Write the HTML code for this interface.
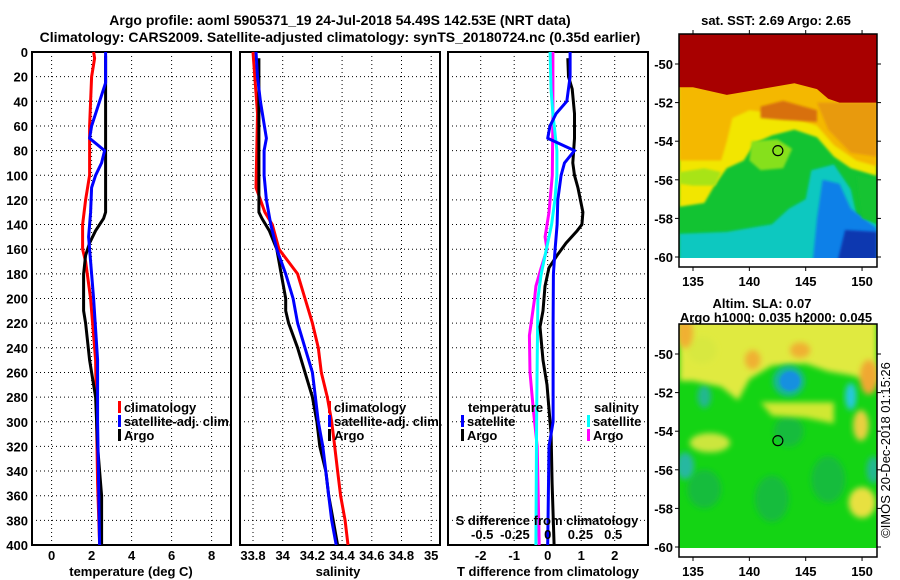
<!DOCTYPE html>
<html><head><meta charset="utf-8"><style>
html,body{margin:0;padding:0;background:#fff;}
svg{display:block;font-family:"Liberation Sans",Arial,sans-serif;font-weight:bold;}
</style></head><body>
<svg id="c" width="900" height="580" viewBox="0 0 900 580" xmlns="http://www.w3.org/2000/svg">
<defs>
<filter id="bl" x="-10%" y="-10%" width="120%" height="120%"><feGaussianBlur stdDeviation="1.2"/></filter>
<filter id="bl2" x="-30%" y="-30%" width="160%" height="160%"><feGaussianBlur stdDeviation="3"/></filter>
<clipPath id="m1c"><rect x="679" y="34" width="198" height="224"/></clipPath>
<clipPath id="m2c"><rect x="679" y="324" width="198" height="224"/></clipPath>
</defs>
<text x="340" y="25" font-size="14" text-anchor="middle">Argo profile: aoml 5905371_19 24-Jul-2018 54.49S 142.53E (NRT data)</text>
<text x="340" y="42" font-size="14" text-anchor="middle">Climatology: CARS2009. Satellite-adjusted climatology: synTS_20180724.nc (0.35d earlier)</text>
<g id="g"></g>
</svg>
<script>
// ---- data ----
const depthTicks=[0,20,40,60,80,100,120,140,160,180,200,220,240,260,280,300,320,340,360,380,400];
const tempTicks=[0,2,4,6,8];
const salTicks=[33.8,34,34.2,34.4,34.6,34.8,35];
const salTickLabels=["33.8","34","34.2","34.4","34.6","34.8","35"];
const dTTicks=[-2,-1,0,1,2];
const dSTicks=[-0.5,-0.25,0,0.25,0.5];
const dSTickLabels=["-0.5","-0.25","0","0.25","0.5"];
const climTDepth=[0,5,20,60,70,100,120,140,160,170,200,250,300,350,400];
const climT=[2.1,2.15,2.0,1.9,1.9,1.9,1.7,1.55,1.55,1.7,1.95,2.2,2.25,2.3,2.4];
const satTDepth=[0,25,40,60,70,80,90,100,110,130,150,180,200,250,300,400];
const satT=[2.7,2.7,2.4,2.0,1.9,2.65,2.5,2.2,2.0,1.95,1.85,2.0,2.1,2.3,2.3,2.4];
const argoTDepth=[3,35,130,135,145,155,165,180,210,220,250,280,320,360,400];
const argoT=[2.7,2.7,2.7,2.6,2.2,1.9,1.7,1.6,1.6,1.7,1.9,2.2,2.3,2.5,2.5];
const climSDepth=[0,50,110,130,140,160,180,200,220,240,260,280,300,320,340,360,380,400];
const climS=[33.8,33.83,33.82,33.88,33.93,33.975,34.1,34.15,34.2,34.24,34.26,34.3,34.33,34.35,34.37,34.39,34.42,34.44];
const satSDepth=[0,20,40,55,70,80,100,120,140,160,180,200,220,240,260,280,300,320,340,360,380,400];
const satS=[33.82,33.83,33.85,33.87,33.89,33.875,33.875,33.89,33.92,33.96,34.02,34.07,34.1,34.15,34.2,34.22,34.24,34.27,34.29,34.31,34.33,34.36];
const argoSDepth=[5,40,60,130,135,145,160,180,200,210,220,240,260,280,300,320,340,360,380,400];
const argoS=[33.84,33.84,33.84,33.84,33.86,33.91,33.96,33.99,34.02,34.02,34.04,34.1,34.15,34.2,34.23,34.25,34.29,34.31,34.34,34.37];
const dTsatDepth=[0,20,40,50,60,70,80,90,100,120,140,160,180,220,300,320,400];
const dTsat=[0.67,0.67,0.57,0.25,0.07,0,0.8,0.5,0.4,0.3,0.28,0.22,0.17,0.16,0.16,0.04,0];
const dTargoDepth=[5,20,30,50,70,90,100,110,130,140,145,155,165,175,190,210,223,250,270,290,310,350,400];
const dTargo=[0.6,0.62,0.73,0.8,0.8,0.75,0.8,0.9,1.05,1.02,0.88,0.55,0.28,0.04,-0.08,-0.14,-0.23,-0.14,-0.02,0.04,0.1,0.13,0.19];
const dSsatDepth=[0,30,50,80,100,120,140,160,180,200,250,300,400];
const dSsat=[0.018,0.025,0.04,0.07,0.07,0.055,0.03,-0.01,-0.05,-0.075,-0.08,-0.085,-0.09];
const dSargoDepth=[0,50,100,130,150,160,175,190,200,230,260,290,320,400];
const dSargo=[0.04,0.04,0.035,0.01,-0.02,-0.005,-0.05,-0.09,-0.1,-0.14,-0.135,-0.11,-0.08,-0.065];
const lonTicks=[135,140,145,150];
const latTicks=[-50,-52,-54,-56,-58,-60];
const argoLon=142.53, argoLat=-54.49;

// ---- helpers ----
const NS="http://www.w3.org/2000/svg";
const G=document.getElementById('g');
function el(t,a,p){const e=document.createElementNS(NS,t);for(const k in a)e.setAttribute(k,a[k]);(p||G).appendChild(e);return e;}
function txt(x,y,s,size,anchor,p){const e=el('text',{x:x,y:y,'font-size':size,'text-anchor':anchor||'middle'},p);e.textContent=s;return e;}
const top0=52,bot0=545;
const yD=d=>top0+(bot0-top0)*d/400;

function panel(x0,x1,xs,xTicks,xLabels,name){
  const g=el('g',{});
  
  
  depthTicks.forEach(d=>{if(d>0&&d<400){const l=el('line',{x1:x0,x2:x1,y1:yD(d),y2:yD(d),stroke:'#000','stroke-width':1,'stroke-dasharray':'1,3'},g);}});
  xTicks.forEach(v=>{const X=xs(v);if(X>x0+2&&X<x1-2){const l=el('line',{x1:X,x2:X,y1:top0,y2:bot0,stroke:'#000','stroke-width':1,'stroke-dasharray':'1,3'},g);}});
  const r=el('rect',{x:x0,y:top0,width:x1-x0,height:bot0-top0,fill:'none',stroke:'#000','stroke-width':2},g);
  
  xTicks.forEach((v,i)=>{const X=xs(v);const t=txt(X,560,xLabels[i],13,'middle',g);});
  return g;
}
function line(g,depths,vals,xs,color,w,name){
  const pts=depths.map((d,i)=>xs(vals[i]).toFixed(1)+','+yD(d).toFixed(1)).join(' ');
  const p=el('polyline',{points:pts,fill:'none',stroke:color,'stroke-width':w||3,'stroke-linejoin':'round'},g);
  
  
}
function legend(g,x,y,color,label){
  const r=el('rect',{x:x,y:y-11,width:3,height:12,fill:color},g);
  
  const t=txt(x+6,y,label,13,'start',g);
  
}

depthTicks.forEach(d=>{const t=txt(28,yD(d)+5,String(d),13,'end');});

// Panel 1 temperature
const xT=v=>51.6+20*v;
const p1=panel(32,231,xT,tempTicks,tempTicks.map(String),'temperature-panel');
line(p1,climTDepth,climT,xT,'#f00',3,'climatology-temperature-line');
line(p1,argoTDepth,argoT,xT,'#000',3,'argo-temperature-line');
line(p1,satTDepth,satT,xT,'#00f',3,'satellite-adjusted-temperature-line');
legend(p1,118,412,'#f00','climatology');
legend(p1,118,426,'#00f','satellite-adj. clim.');
legend(p1,118,440,'#000','Argo');
{const t=txt(131,576,'temperature (deg C)',13);}

// Panel 2 salinity
const xS=v=>253+(v-33.8)*148.5;
const p2=panel(240,440,xS,salTicks,salTickLabels,'salinity-panel');
line(p2,climSDepth,climS,xS,'#f00',3,'climatology-salinity-line');
line(p2,argoSDepth,argoS,xS,'#000',3,'argo-salinity-line');
line(p2,satSDepth,satS,xS,'#00f',3,'satellite-adjusted-salinity-line');
legend(p2,328,412,'#f00','climatology');
legend(p2,328,426,'#00f','satellite-adj. clim.');
legend(p2,328,440,'#000','Argo');
{const t=txt(338,576,'salinity',13);}

// Panel 3 differences
const xdT=v=>547.7+33.5*v;
const xdS=v=>547.7+131*v;
const p3=panel(448,648,xdT,dTTicks,dTTicks.map(String),'difference-panel');
line(p3,dSargoDepth,dSargo,xdS,'#f0f',3,'argo-salinity-difference-line');
line(p3,dSsatDepth,dSsat,xdS,'#0ff',3,'satellite-salinity-difference-line');
line(p3,dTargoDepth,dTargo,xdT,'#000',3,'argo-temperature-difference-line');
line(p3,dTsatDepth,dTsat,xdT,'#00f',3,'satellite-temperature-difference-line');
{const t=txt(468,412,'temperature',13,'start',p3);}
legend(p3,461,426,'#00f','satellite');
legend(p3,461,440,'#000','Argo');
{const t=txt(594,412,'salinity',13,'start',p3);}
legend(p3,587,426,'#0ff','satellite');
legend(p3,587,440,'#f0f','Argo');
{const t=txt(547,525,'S difference from climatology',13,'middle',p3);}
dSTicks.forEach((v,i)=>{const t=txt(xdS(v),539,dSTickLabels[i],13,'middle',p3);});
{const t=txt(548,576,'T difference from climatology',13);}

// ---- maps ----
function mapFrame(y0,name,clip){
  const g=el('g',{});
  
  
  const X=lon=>693+(lon-135)*11.27;
  const Y=lat=>y0+30+(-50-lat)*19.3;
  const inner=el('g',{'clip-path':'url(#'+clip+')'},g);
  return {g,inner,X,Y,y0};
}
function poly(m,pts,fill,filt){const p=el('polygon',{points:pts.map(q=>m.X(q[0]).toFixed(1)+','+m.Y(q[1]).toFixed(1)).join(' '),fill:fill},m.inner);if(filt)p.setAttribute('filter',filt);return p;}
function ell(m,lon,lat,rl,ra,fill,filt){const e=el('ellipse',{cx:m.X(lon),cy:m.Y(lat),rx:rl*11.27,ry:ra*19.3,fill:fill},m.inner);if(filt)e.setAttribute('filter',filt);return e;}
function finishMap(m){
  const g=m.g,y0=m.y0;
  const fr=el('rect',{x:679,y:y0,width:198,height:233,fill:'none',stroke:'#000','stroke-width':1.5},g);
  
  latTicks.forEach(v=>{const Y=m.Y(v);el('line',{x1:679,x2:675,y1:Y,y2:Y,stroke:'#000'},g);el('line',{x1:877,x2:881,y1:Y,y2:Y,stroke:'#000'},g);const t=txt(673,Y+5,String(v),13,'end',g);});
  lonTicks.forEach(v=>{const X=m.X(v);el('line',{x1:X,x2:X,y1:y0,y2:y0-4,stroke:'#000'},g);el('line',{x1:X,x2:X,y1:y0+233,y2:y0+237,stroke:'#000'},g);const t=txt(X,y0+252,String(v),13,'middle',g);});
  const c=el('circle',{cx:m.X(argoLon),cy:m.Y(argoLat),r:5,fill:'none',stroke:'#000','stroke-width':1.2},g);
  
}
// Map 1 SST
const m1=mapFrame(34,'sst-map','m1c');
el('rect',{x:679,y:34,width:198,height:224,fill:'#12c332'},m1.inner);
poly(m1,[[133.8,-50],[151.3,-50],[151.3,-55.8],[149,-55.4],[147.5,-54.8],[146,-53.8],[144,-53.4],[142,-53.7],[140.5,-54.1],[139.5,-55],[138,-55.4],[137,-56.2],[136,-57.2],[133.8,-57.4]],'#f2e600','url(#bl)');
poly(m1,[[133.8,-55.6],[136,-55.4],[137.5,-55.6],[137,-56.3],[135,-56.3],[133.8,-56.2]],'#a8e418','url(#bl)');
poly(m1,[[133.8,-50],[151.3,-50],[151.3,-55.3],[149.5,-55.0],[147.5,-54.2],[146,-53.2],[143,-52.6],[140,-52.4],[138.5,-52.8],[138,-54],[137.5,-55],[133.8,-55.0]],'#f4b800','url(#bl)');
poly(m1,[[141,-52.2],[143,-51.9],[146,-52.4],[146,-53],[143,-52.9],[141,-52.8]],'#d87010','url(#bl)');
poly(m1,[[146,-52],[151.3,-52],[151.3,-54.8],[149,-54.6],[147,-53.4]],'#e89a10','url(#bl)');
poly(m1,[[140.2,-54],[142.5,-53.9],[143.8,-54.4],[143,-55.4],[141,-55.5],[140,-55]],'#86e01c','url(#bl)');
poly(m1,[[133.8,-48],[151.3,-48],[151.3,-52],[148,-52],[147,-51.8],[146,-51.3],[144,-51.0],[141,-51.3],[138,-51.6],[135,-51.2],[133.8,-51.2]],'#a80000');
poly(m1,[[145.5,-55.5],[147.5,-55.2],[149,-56.5],[149.5,-57.8],[151.3,-58.3],[151.3,-61],[133.8,-61],[133.8,-58.8],[138,-58.7],[142,-58.3],[143.5,-57.5],[145,-57]],'#08c8c0','url(#bl)');
poly(m1,[[146.5,-56],[148,-56.2],[149,-57.5],[151.3,-58.5],[151.3,-61],[145.5,-61],[146,-58]],'#1080e8','url(#bl)');
poly(m1,[[148.5,-58.6],[151.3,-58.7],[151.3,-61],[147.5,-61]],'#1038b0','url(#bl)');
poly(m1,[[149.5,-55.8],[151.3,-56],[151.3,-58.2],[150,-58]],'#12c332','url(#bl)');
finishMap(m1);
{const t=txt(776,25,'sat. SST: 2.69 Argo: 2.65',13,'middle',m1.g);}

// Map 2 SLA
const m2=mapFrame(324,'sla-map','m2c');
el('rect',{x:679,y:324,width:198,height:224,fill:'#14d414'},m2.inner);
ell(m2,136,-57,1.5,1,'#14bc3c','url(#bl2)');
ell(m2,142,-57.5,1.5,1.2,'#14bc3c','url(#bl2)');
ell(m2,147,-56.5,1.5,1.2,'#14bc3c','url(#bl2)');
ell(m2,143.5,-54,1.3,0.8,'#14bc3c','url(#bl2)');
ell(m2,134.3,-55.8,0.8,0.7,'#28b8a0','url(#bl2)');
ell(m2,136,-52.2,0.6,0.6,'#20b890','url(#bl2)');
ell(m2,151,-56,0.6,0.7,'#20b890','url(#bl2)');
poly(m2,[[133.8,-47],[151.3,-47],[151.3,-51.5],[149,-51.1],[147,-50.9],[145,-50.5],[142,-50.6],[140,-51.3],[139,-52.4],[137.5,-51.7],[135,-51.4],[133.8,-51.4]],'#e0ea40','url(#bl2)');
ell(m2,135.8,-49.8,1.3,0.7,'#d8e840','url(#bl2)');
poly(m2,[[141,-52.5],[147.5,-52.5],[147.5,-53.6],[145,-53.3],[142,-53.2]],'#d0e830','url(#bl2)');
ell(m2,149.9,-53.7,0.7,0.8,'#e8d040','url(#bl2)');
ell(m2,150,-57.7,1.2,0.8,'#e8e040','url(#bl2)');
ell(m2,136.5,-54.6,1.8,0.5,'#cce63c','url(#bl2)');
ell(m2,134.3,-48.9,0.7,0.8,'#f0b030','url(#bl2)');
ell(m2,140.3,-50.3,0.7,0.5,'#f0b030','url(#bl2)');
ell(m2,144.5,-49.8,0.9,0.4,'#f0b030','url(#bl2)');
ell(m2,150.6,-51.2,0.8,0.9,'#f0a830','url(#bl2)');
ell(m2,143.5,-51.4,1.4,0.8,'#14b4a0','url(#bl2)');
ell(m2,143.6,-51.4,0.9,0.5,'#1890e0','url(#bl)');
ell(m2,149,-52.2,0.5,0.7,'#28c8e0','url(#bl2)');
finishMap(m2);
{const t=txt(762,308,'Altim. SLA: 0.07',13,'middle',m2.g);}
{const t=txt(776,322,'Argo h1000: 0.035 h2000: 0.045',13,'middle',m2.g);}
{const t=el('text',{x:0,y:0,'font-size':13,'font-weight':'normal','text-anchor':'middle',transform:'translate(890,450) rotate(-90)'});t.textContent='©IMOS 20-Dec-2018 01:15:26';}
</script>
</body></html>
